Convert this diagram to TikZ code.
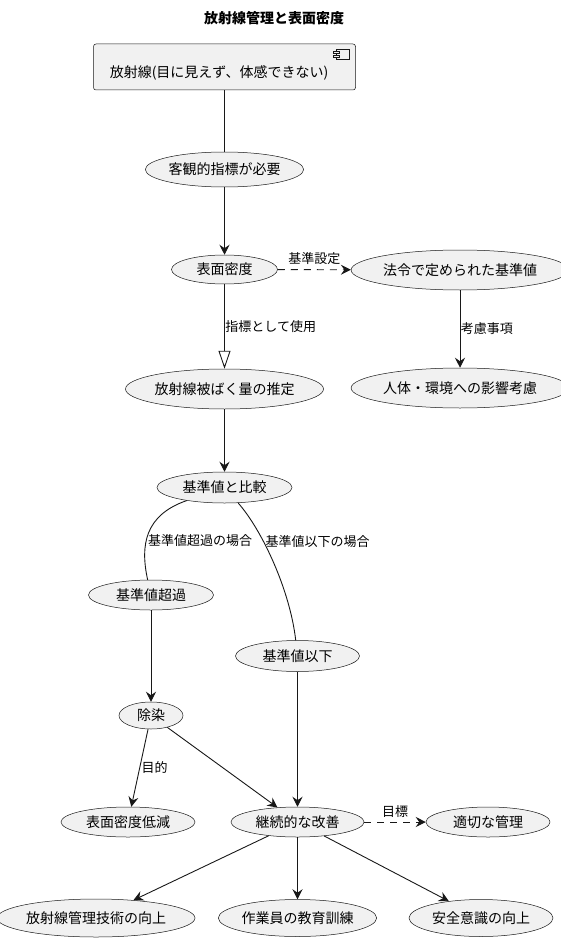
\documentclass[tikz,border=0pt]{standalone}
\usepackage{fontspec}
\setmainfont{Noto Sans CJK JP}
\usetikzlibrary{shapes.geometric,arrows.meta}
\definecolor{ucfill}{HTML}{F1F1F1}
\definecolor{ucline}{HTML}{181818}
\begin{document}
\begin{tikzpicture}
        [x=1pt,y=-1pt,
        uc/.style={ellipse,draw=ucline,line width=0.5pt,fill=ucfill,inner sep=0pt,
            font=\fontsize{14}{16}\selectfont},
        lbl/.style={font=\fontsize{13}{15}\selectfont,inner sep=1.5pt},
        plain/.style={draw=ucline,line width=0.9pt},
        arr/.style={plain,-{Stealth[length=10pt,width=10pt,inset=3.5pt]}},
        dsh/.style={arr,dash pattern=on 7pt off 6pt}]
        \useasboundingbox (0,0) rectangle (560,944);
        \node[font=\bfseries\fontsize{14}{16}\selectfont] (title) at (274,18) {放射線管理と表面密度};
        % component box
        \node[draw=ucline,fill=ucfill,line width=0.5pt,rounded corners=2.5pt,
            minimum width=262pt,minimum height=46pt] (rad) at (224.5,67) {};
        \node[font=\fontsize{14}{16}\selectfont] (radtxt) at (219,73) {放射線(目に見えず、体感できない)};
        \draw[ucline,line width=0.5pt,fill=ucfill] (336,49) rectangle (349,59);
        \draw[ucline,line width=0.5pt,fill=ucfill] (333,51) rectangle (339,53);
        \draw[ucline,line width=0.5pt,fill=ucfill] (333,55) rectangle (339,57);
        % use cases
        \node[uc,minimum width=156pt,minimum height=35pt] (obj) at (224.5,169.5) {客観的指標が必要};
        \node[uc,minimum width=106pt,minimum height=29pt] (sd) at (224.5,269.5) {表面密度};
        \node[uc,minimum width=194pt,minimum height=40pt] (law) at (460,270) {法令で定められた基準値};
        \node[uc,minimum width=180pt,minimum height=40pt] (est) at (224.5,389) {放射線被ばく量の推定};
        \node[uc,minimum width=194pt,minimum height=40pt] (eff) at (460,388) {人体・環境への影響考慮};
        \node[uc,minimum width=135pt,minimum height=31pt] (cmp) at (224.5,487.5) {基準値と比較};
        \node[uc,minimum width=125pt,minimum height=30pt] (over) at (151,595) {基準値超過};
        \node[uc,minimum width=124pt,minimum height=31pt] (under) at (297.5,656) {基準値以下};
        \node[uc,minimum width=64pt,minimum height=27pt] (decon) at (151,715.5) {除染};
        \node[uc,minimum width=134pt,minimum height=30pt] (low) at (128,822) {表面密度低減};
        \node[uc,minimum width=133pt,minimum height=30pt] (imp) at (297.5,822) {継続的な改善};
        \node[uc,minimum width=124pt,minimum height=30pt] (mgmt) at (488,822) {適切な管理};
        \node[uc,minimum width=178pt,minimum height=38pt] (tech) at (96,918) {放射線管理技術の向上};
        \node[uc,minimum width=156pt,minimum height=37pt] (edu) at (297.5,918) {作業員の教育訓練};
        \node[uc,minimum width=144pt,minimum height=37pt] (aware) at (481,918) {安全意識の向上};
        % connectors
        \draw[plain] (rad) -- (obj);
        \draw[arr] (obj) -- (sd);
        \draw[dsh] (sd) -- node[lbl,above=3pt] {基準設定} (law);
        \draw[plain,-{Triangle[open,length=18pt,width=12pt]}] (sd) -- node[lbl,right,inner sep=0.5pt] {指標として使用} (est);
        \draw[arr] (law) -- node[lbl,right,inner sep=0.5pt] {考慮事項} (eff);
        \draw[arr] (est) -- (cmp);
        \draw[plain] (cmp) .. controls (145,515) and (140,545) .. node[lbl,right,pos=0.6] {基準値超過の場合} (over);
        \draw[plain] (cmp) .. controls (262,530) and (290,590) .. node[lbl,right,pos=0.35] {基準値以下の場合} (under);
        \draw[arr] (over) -- (decon);
        \draw[arr] (under) -- (imp);
        \draw[arr] (decon) -- node[lbl,right] {目的} (low);
        \draw[arr] (decon) -- (imp);
        \draw[dsh] (imp) -- node[lbl,above=3pt] {目標} (mgmt);
        \draw[arr] (imp) -- (tech);
        \draw[arr] (imp) -- (edu);
        \draw[arr] (imp) -- (aware);
\end{tikzpicture}
\end{document}
